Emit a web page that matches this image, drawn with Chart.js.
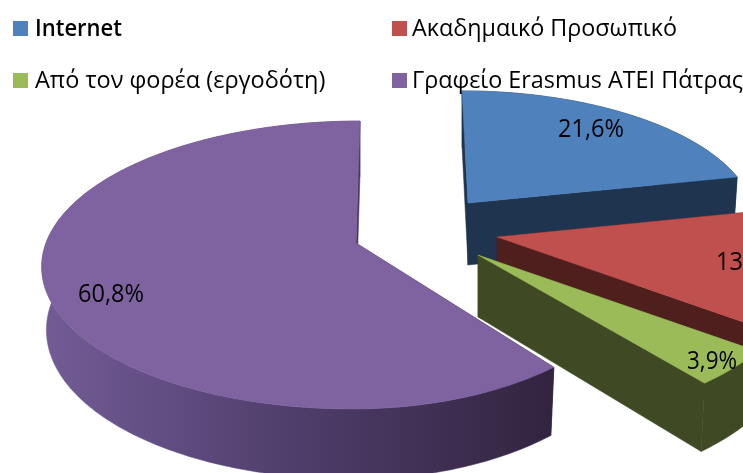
<!DOCTYPE html>
<html>
<head>
<meta charset="utf-8">
<style>
html,body{margin:0;padding:0;background:#fff;overflow:hidden}
#c{display:block;filter:blur(0.45px)}
</style>
<script src="https://cdn.jsdelivr.net/npm/chart.js@4"></script>
</head>
<body>
<canvas id="c" width="743" height="473"></canvas>
<script>
const categories = ["Internet", "Ακαδημαικό Προσωπικό", "Από τον φορέα (εργοδότη)", "Γραφείο Erasmus ATEI Πάτρας"];
const shareValues = [21.6, 13.7, 3.9, 60.8];
const valueLabels = ["21,6%", "13,7%", "3,9%", "60,8%"];

const topColors = ["#4F81BD", "#C0504D", "#9BBB59", "#7F63A1"];
const sideColors = ["#1F344F", "#4F1F1E", "#3F4923", null];

// Fake-3D view of each exploded slice (apex, radii, foreshortening)
const views = [
  {ax:468, ay:203, rxL:284, rxR:284, ry:126, t:.124, sk:6},
  {ax:497, ay:237, rxL:300, rxR:300, ry:137, t:.15,  sk:0},
  {ax:478, ay:255, rxL:318, rxR:318, ry:145, t:.153, sk:0},
  {ax:356, ay:243, rxL:310, rxR:282, ry:140.6, t:.153, sk:-4}
];
const DEPTH = 62, LOW_X = .985, LOW_Y = 1.05;
const labelSpots = [
  {x:558, y:130, w:66}, {x:716, y:263, w:66}, {x:687, y:362, w:50}, {x:78, y:295, w:66}
];
const legendSpots = [
  {x:13, y:21, tx:35, w:87, weight:600}, {x:392, y:21, tx:412, w:265, weight:400},
  {x:13, y:73, tx:35, w:292, weight:400}, {x:392, y:73, tx:412, w:331, weight:400}
];

function project(v, theta, low) {
  const a = Math.sin(theta), b = -Math.cos(theta);
  const w = 1 / (1 - v.t * b);
  const X = (a < 0 ? v.rxL : v.rxR) * a * w + v.sk * b;
  const Y = v.ry * b * w;
  return low ? [v.ax + X * LOW_X, v.ay + DEPTH + Y * LOW_Y] : [v.ax + X, v.ay + Y];
}
function arcPts(v, s, e, low) {
  const pts = [], n = Math.max(8, Math.ceil((e - s) * 60));
  for (let i = 0; i <= n; i++) pts.push(project(v, s + (e - s) * i / n, low));
  return pts;
}
function fillPoly(ctx, pts, fill) {
  ctx.beginPath();
  pts.forEach((p, i) => i ? ctx.lineTo(p[0], p[1]) : ctx.moveTo(p[0], p[1]));
  ctx.closePath();
  ctx.fillStyle = fill;
  ctx.strokeStyle = fill;
  ctx.lineWidth = .5;
  ctx.fill();
  ctx.stroke();
}

const pie3d = {
  id: 'pie3d',
  afterDatasetsDraw(chart) {
    const ctx = chart.ctx;
    const arcs = chart.getDatasetMeta(0).data;
    ctx.save();
    arcs.forEach((el, i) => {
      const v = views[i];
      const s = el.startAngle + Math.PI / 2, e = el.endAngle + Math.PI / 2;
      let side = sideColors[i];
      if (!side) {
        side = ctx.createLinearGradient(43, 0, 555, 0);
        side.addColorStop(0, "#735C96");
        side.addColorStop(.5, "#4E3D6A");
        side.addColorStop(1, "#32243F");
      }
      const up = arcPts(v, s, e, false), lo = arcPts(v, s, e, true);
      const apexU = [v.ax, v.ay], apexL = [v.ax, v.ay + DEPTH];
      fillPoly(ctx, up.concat(lo.slice().reverse()), side);
      fillPoly(ctx, [apexU, up[0], lo[0], apexL], side);
      fillPoly(ctx, [apexU, up[up.length - 1], lo[lo.length - 1], apexL], side);
      fillPoly(ctx, [apexU].concat(up), topColors[i]);
    });
    // value labels
    ctx.fillStyle = "#000";
    ctx.textBaseline = "middle";
    ctx.textAlign = "left";
    ctx.font = "26px 'Open Sans'";
    valueLabels.forEach((t, i) => {
      const p = labelSpots[i];
      ctx.fillText(t, p.x, p.y, p.w);
    });
    // legend
    categories.forEach((t, i) => {
      const p = legendSpots[i];
      ctx.fillStyle = topColors[i];
      ctx.fillRect(p.x, p.y, 15, 15);
      ctx.fillStyle = "#000";
      ctx.font = p.weight + " 23.5px 'Open Sans'";
      ctx.fillText(t, p.tx, p.y + 8, p.w);
    });
    ctx.restore();
  }
};

new Chart(document.getElementById('c'), {
  type: 'pie',
  data: {
    labels: categories,
    datasets: [{ data: shareValues, backgroundColor: 'rgba(0,0,0,0)', borderWidth: 0 }]
  },
  options: {
    responsive: false,
    animation: false,
    plugins: { legend: { display: false }, tooltip: { enabled: false } }
  },
  plugins: [pie3d]
});
</script>
</body>
</html>
